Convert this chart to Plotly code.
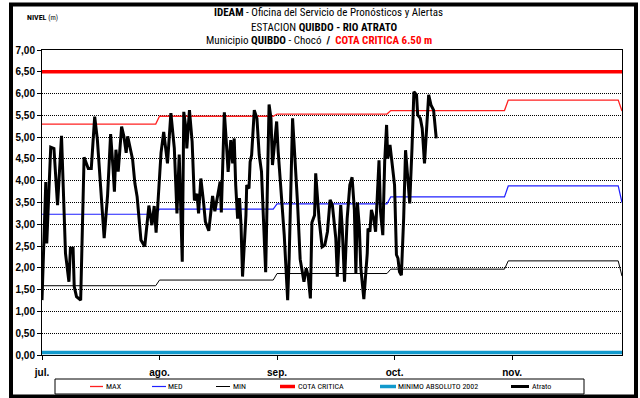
import pandas as pd
import plotly.graph_objects as go

# Niveles de referencia mensuales (m): jul, ago, sep, oct, nov, dic
nivel_max = [5.30, 5.48, 5.53, 5.61, 5.85, 5.60]
nivel_med = [3.23, 3.35, 3.47, 3.63, 3.88, 3.50]
nivel_min = [1.59, 1.72, 1.87, 1.97, 2.16, 1.81]
cota_critica = 6.50
minimo_absoluto_2002 = 0.06

# Eje temporal: días contados desde el 1 de julio
fechas = pd.date_range("2013-07-01", "2013-12-01", freq="D")
dias = list(range(len(fechas)))
tick_dias = [0, 31, 62, 93, 124]
tick_meses = ["jul.", "ago.", "sep.", "oct.", "nov."]

# Niveles del eje Y
y_ticks = [i * 0.5 for i in range(15)]
y_ticktext = [f"{v:.2f}".replace(".", ",") for v in y_ticks]

# Lecturas del río Atrato: instante (días desde el 1 de julio) y nivel (m)
atrato_dia = [
    0.0, 1.0, 1.25, 2.3, 3.15, 4.1, 5.15, 6.2, 7.1, 7.5,
    8.2, 8.5, 9.1, 10.2, 11.1, 12.2, 13.0, 13.9, 14.6, 16.0,
    16.4, 17.3, 18.1, 18.7, 19.1, 19.5, 20.1, 21.0, 21.6, 22.2,
    22.6, 23.9, 24.5, 25.1, 26.1, 27.1, 28.2, 29.0, 29.6, 30.1,
    30.6, 31.4, 32.1, 33.1, 34.0, 34.9, 35.6, 36.2, 37.0, 37.4,
    38.0, 38.2, 38.9, 39.6, 40.2, 40.9, 41.3, 41.9, 42.6, 43.1,
    44.0, 45.0, 45.6, 46.3, 47.0, 47.3, 48.1, 48.5, 49.1, 49.8,
    50.3, 50.7, 51.1, 51.6, 52.1, 52.5, 52.9, 53.8, 54.0, 54.6,
    54.9, 55.3, 56.0, 56.7, 57.3, 57.9, 58.4, 59.0, 59.9, 60.4,
    60.8, 61.4, 61.9, 62.3, 63.0, 63.9, 64.8, 65.2, 66.1, 66.7,
    67.4, 68.1, 68.7, 69.1, 69.7, 70.2, 70.8, 71.2, 71.9, 72.2,
    73.1, 73.9, 74.6, 75.3, 76.0, 76.6, 77.5, 77.9, 78.8, 79.2,
    79.8, 80.5, 81.2, 81.8, 82.4, 82.8, 83.2, 83.7, 84.1, 84.9,
    85.8, 86.0, 86.5, 86.9, 87.5, 88.0, 88.9, 89.3, 89.9, 90.4,
    90.9, 91.2, 91.8, 92.4, 93.0, 93.5, 93.9, 94.3, 94.8, 95.4,
    95.9, 96.5, 97.0, 97.6, 98.1, 98.8, 99.1, 99.8, 100.3, 100.9,
    101.6, 102.0, 102.6, 103.3, 104.0,
]
atrato_nivel = [
    1.26, 3.97, 2.56, 4.77, 4.74, 3.44, 5.03, 2.33, 1.68, 2.45,
    2.45, 1.57, 1.34, 1.26, 4.54, 4.28, 4.28, 5.47, 4.95, 3.20,
    2.68, 3.67, 5.07, 4.34, 3.75, 4.71, 4.21, 5.24, 5.02, 4.64,
    5.02, 4.49, 3.94, 3.63, 2.64, 2.49, 3.43, 2.98, 3.42, 2.81,
    3.48, 4.64, 5.12, 4.40, 5.55, 4.75, 3.25, 4.60, 2.14, 5.58,
    5.18, 4.74, 5.62, 4.90, 3.55, 3.70, 3.25, 4.05, 3.52, 3.06,
    2.85, 3.65, 3.30, 3.60, 3.98, 3.27, 5.57, 5.05, 4.20, 4.93,
    4.40, 4.97, 3.90, 3.13, 3.60, 2.98, 1.80, 3.21, 3.90, 3.82,
    4.43, 4.59, 5.62, 5.43, 4.59, 4.21, 2.98, 1.90, 5.75, 5.43,
    4.36, 4.97, 5.36, 4.67, 3.75, 2.75, 1.26, 2.22, 5.43, 4.59,
    3.50, 2.20, 1.91, 1.68, 1.99, 1.82, 1.30, 3.04, 3.21, 4.17,
    3.10, 2.48, 2.52, 2.83, 3.56, 3.44, 2.68, 1.80, 3.44, 2.91,
    1.68, 3.13, 3.90, 4.08, 3.33, 1.88, 3.50, 2.95, 2.00, 1.28,
    2.33, 2.90, 2.83, 3.33, 3.13, 2.83, 4.47, 3.29, 2.75, 4.44,
    5.28, 4.51, 4.82, 4.28, 3.90, 2.30, 2.22, 1.91, 1.83, 3.13,
    4.70, 4.05, 3.48, 4.74, 6.04, 5.97, 5.51, 5.43, 5.20, 4.40,
    5.43, 5.97, 5.74, 5.62, 4.97,
]

# Series diarias de referencia a partir de los valores mensuales
serie_max = [nivel_max[f.month - 7] for f in fechas]
serie_med = [nivel_med[f.month - 7] for f in fechas]
serie_min = [nivel_min[f.month - 7] for f in fechas]
serie_cota = [cota_critica] * len(fechas)
serie_minabs = [minimo_absoluto_2002] * len(fechas)

NARROW = "Liberation Sans Narrow, Arial Narrow, Roboto Condensed, DejaVu Sans Condensed, sans-serif"
ARIAL = "Liberation Sans, Arial, sans-serif"

series = [
    ("MAX", dias, serie_max, "#FF2020", 1.3),
    ("MED", dias, serie_med, "#2020FF", 1.2),
    ("MIN", dias, serie_min, "#000000", 1.0),
    ("COTA CRITICA", dias, serie_cota, "#FF0000", 3.5),
    ("MINIMO ABSOLUTO 2002", dias, serie_minabs, "#1199CC", 3.5),
    ("Atrato", atrato_dia, atrato_nivel, "#000000", 3.0),
]

fig = go.Figure()
for nombre, xs, ys, color, ancho in series:
    fig.add_trace(go.Scatter(
        x=xs, y=ys, mode="lines", name=nombre,
        line=dict(color=color, width=ancho),
        showlegend=False, hoverinfo="skip",
    ))

# Geometría del área de trazado (px)
L, R, T, B = 42, 18, 50, 43
W, H = 640, 398
PW, PH = W - L - R, H - T - B


def px(x):
    return (x - L) / PW


def py(y):
    return (H - B - y) / PH


shapes = []
annotations = []

# Marco exterior
shapes.append(dict(type="rect", xref="paper", yref="paper",
                   x0=px(11), x1=px(636), y0=py(396.5), y1=py(4.5),
                   line=dict(color="black", width=4), fillcolor="rgba(0,0,0,0)",
                   layer="above"))

# Caja de la leyenda
shapes.append(dict(type="rect", xref="paper", yref="paper",
                   x0=px(55), x1=px(584), y0=py(394), y1=py(379),
                   line=dict(color="black", width=1), fillcolor="white"))

ley_y = py(386.5)
ley_items = [
    (90, 103, 104),
    (152, 166, 166),
    (216, 230, 231),
    (280, 295, 296),
    (380, 396, 396),
    (511, 529, 530),
]
for (nombre, _, _, color, ancho), (lx0, lx1, tx) in zip(series, ley_items):
    shapes.append(dict(type="line", xref="paper", yref="paper",
                       x0=px(lx0), x1=px(lx1), y0=ley_y, y1=ley_y,
                       line=dict(color=color, width=ancho)))
    annotations.append(dict(xref="paper", yref="paper", x=px(tx), y=ley_y,
                            text=nombre, showarrow=False, xanchor="left",
                            yanchor="middle",
                            font=dict(family=NARROW, size=8, color="black")))

# Títulos
titulos = [
    ("<b>IDEAM</b> - Oficina del Servicio de Pronósticos y Alertas", 328, 13),
    ("ESTACION <b>QUIBDO - RIO ATRATO</b>", 324, 27),
    ("Municipio <b>QUIBDO</b> - Chocó  <b>/</b>  "
     "<span style='color:#FF0000'><b>COTA CRITICA 6.50 m</b></span>", 319, 41),
]
for texto, cx, cy in titulos:
    annotations.append(dict(xref="paper", yref="paper", x=px(cx), y=py(cy),
                            text=texto, showarrow=False, xanchor="center",
                            yanchor="middle",
                            font=dict(family=NARROW, size=11, color="black")))

annotations.append(dict(xref="paper", yref="paper", x=px(25), y=py(18),
                        text="<b>NIVEL</b> <span style='font-size:7px'>(m)</span>",
                        showarrow=False, xanchor="left", yanchor="middle",
                        font=dict(family=NARROW, size=8, color="black")))

fig.update_layout(
    width=W, height=H,
    margin=dict(l=L, r=R, t=T, b=B, pad=0),
    paper_bgcolor="white", plot_bgcolor="white",
    showlegend=False,
    shapes=shapes, annotations=annotations,
    xaxis=dict(
        range=[0, 153], tickmode="array", tickvals=tick_dias, ticktext=tick_meses,
        showgrid=False, zeroline=False,
        showline=True, linecolor="black", linewidth=1, mirror=True,
        ticks="outside", ticklen=4, tickcolor="black", tickwidth=1,
        ticklabelstandoff=4,
        tickfont=dict(family=ARIAL, size=10, color="black", weight="bold"),
    ),
    yaxis=dict(
        range=[0, 7], tickmode="array", tickvals=y_ticks, ticktext=y_ticktext,
        showgrid=True, gridcolor="black", gridwidth=1, griddash="1px,1px",
        zeroline=False,
        showline=True, linecolor="black", linewidth=1, mirror=True,
        ticks="outside", ticklen=4, tickcolor="black", tickwidth=1,
        tickfont=dict(family=ARIAL, size=10, color="black", weight="bold"),
    ),
)

fig.write_html("out.html")
